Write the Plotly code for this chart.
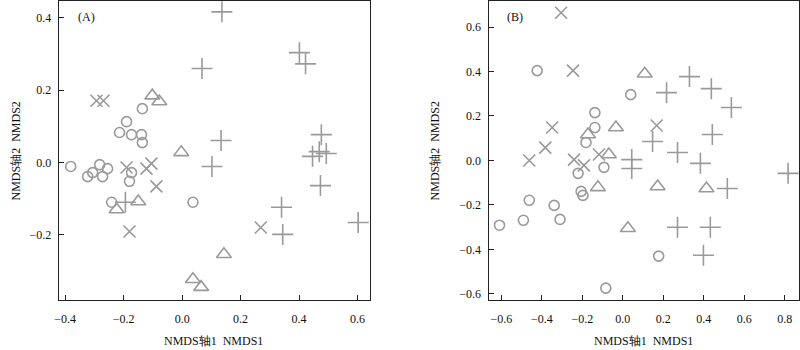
import plotly.graph_objects as go
from plotly.subplots import make_subplots

# ---- Panel A: NMDS site scores by group ----
a_circle_x = [-0.381, -0.323, -0.306, -0.282, -0.255, -0.272, -0.241, -0.173, -0.180, 0.037,
              -0.214, -0.190, -0.173, -0.139, -0.136, -0.136]
a_circle_y = [-0.011, -0.039, -0.028, -0.006, -0.017, -0.039, -0.110, -0.028, -0.052, -0.110,
              0.083, 0.113, 0.077, 0.077, 0.055, 0.149]
a_tri_x = [-0.102, -0.078, -0.003, -0.224, -0.150, 0.143, 0.037, 0.065]
a_tri_y = [0.185, 0.169, 0.028, -0.130, -0.108, -0.254, -0.323, -0.345]
a_x_x = [-0.293, -0.269, -0.190, -0.122, -0.105, -0.088, -0.180, 0.269]
a_x_y = [0.171, 0.171, -0.014, -0.017, -0.003, -0.066, -0.191, -0.180]
a_plus_x = [0.136, 0.068, 0.401, 0.422, 0.476, 0.133, 0.102, 0.446, 0.469, 0.493,
            0.473, 0.340, 0.344, 0.602, -0.194]
a_plus_y = [0.417, 0.260, 0.304, 0.273, 0.077, 0.061, -0.011, 0.017, 0.030, 0.025,
            -0.064, -0.124, -0.199, -0.166, -0.110]

# ---- Panel B ----
b_circle_x = [-0.423, 0.039, -0.138, -0.138, -0.182, -0.093, -0.221, -0.206, -0.197, -0.462,
              -0.339, -0.310, -0.491, -0.609, 0.177, -0.084]
b_circle_y = [0.404, 0.296, 0.215, 0.148, 0.081, -0.031, -0.058, -0.139, -0.157, -0.179,
              -0.202, -0.265, -0.269, -0.291, -0.430, -0.574]
b_tri_x = [0.108, -0.034, -0.172, -0.069, -0.123, 0.172, 0.413, 0.025]
b_tri_y = [0.390, 0.148, 0.117, 0.027, -0.121, -0.117, -0.126, -0.305]
b_x_x = [-0.305, -0.246, -0.349, -0.383, -0.462, -0.241, -0.192, -0.118, 0.167]
b_x_y = [0.664, 0.404, 0.148, 0.058, 0.000, 0.004, -0.022, 0.027, 0.157]
b_plus_x = [0.329, 0.437, 0.216, 0.536, 0.442, 0.147, 0.270, 0.044, 0.044, 0.383,
            0.816, 0.516, 0.270, 0.432, 0.398]
b_plus_y = [0.377, 0.323, 0.305, 0.238, 0.117, 0.085, 0.036, 0.004, -0.036, -0.013,
            -0.058, -0.126, -0.300, -0.300, -0.426]

a_xticks = [-0.4, -0.2, 0.0, 0.2, 0.4, 0.6]
a_yticks = [-0.2, 0.0, 0.2, 0.4]
b_xticks = [-0.6, -0.4, -0.2, 0.0, 0.2, 0.4, 0.6, 0.8]
b_yticks = [-0.6, -0.4, -0.2, 0.0, 0.2, 0.4, 0.6]

GREY = "#9a9a9a"
FONT = "Liberation Serif"
W, H = 800, 350

fig = make_subplots(rows=1, cols=2)

def add_groups(col, groups):
    for xs, ys, sym, size in groups:
        fig.add_trace(go.Scatter(
            x=xs, y=ys, mode="markers", showlegend=False,
            marker=dict(symbol=sym, size=size, color=GREY,
                        line=dict(color=GREY, width=1.6)),
        ), row=1, col=col)

add_groups(1, [
    (a_circle_x, a_circle_y, "circle-open", 10),
    (a_tri_x, a_tri_y, "triangle-up-open", 13),
    (a_x_x, a_x_y, "x-thin-open", 12),
    (a_plus_x, a_plus_y, "cross-thin-open", 15),
])
add_groups(2, [
    (b_circle_x, b_circle_y, "circle-open", 10),
    (b_tri_x, b_tri_y, "triangle-up-open", 13),
    (b_x_x, b_x_y, "x-thin-open", 12),
    (b_plus_x, b_plus_y, "cross-thin-open", 15),
])

axis_common = dict(
    showgrid=False, zeroline=False, showline=True, linecolor="#222", linewidth=1.3,
    mirror=True, ticks="inside", ticklen=5, tickcolor="#222", tickwidth=1.3,
    tickfont=dict(family=FONT, size=12, color="#111"), tickformat=".1f",
)

fig.update_xaxes(axis_common, row=1, col=1, range=[-0.422, 0.643], tickvals=a_xticks,
                 domain=[55 / W, 368 / W], ticklabelstandoff=7)
fig.update_yaxes(axis_common, row=1, col=1, range=[-0.381, 0.447], tickvals=a_yticks,
                 domain=[(H - 301) / H, (H - 1) / H], ticklabelstandoff=4)
fig.update_xaxes(axis_common, row=1, col=2, range=[-0.663, 0.870], tickvals=b_xticks,
                 domain=[487 / W, 799 / W], ticklabelstandoff=7)
fig.update_yaxes(axis_common, row=1, col=2, range=[-0.628, 0.717], tickvals=b_yticks,
                 domain=[(H - 301) / H, (H - 1) / H], ticklabelstandoff=4)

def ann(text, x, y, angle=0):
    fig.add_annotation(text=text, x=x / W, y=(H - y) / H, xref="paper", yref="paper",
                       xanchor="center", yanchor="middle",
                       showarrow=False, textangle=angle,
                       font=dict(family=FONT, size=12, color="#111"))

ann("NMDS轴1  NMDS1", 211, 342)
ann("NMDS轴1  NMDS1", 643, 342)
ann("NMDS轴2  NMDS2", 12, 151, -90)
ann("NMDS轴2  NMDS2", 433, 151, -90)
ann("(A)", 83, 17)
ann("(B)", 514, 17)

fig.update_layout(
    width=W, height=H, margin=dict(l=0, r=0, t=0, b=0),
    paper_bgcolor="white", plot_bgcolor="white",
    font=dict(family=FONT),
)

fig.write_html("out.html")
